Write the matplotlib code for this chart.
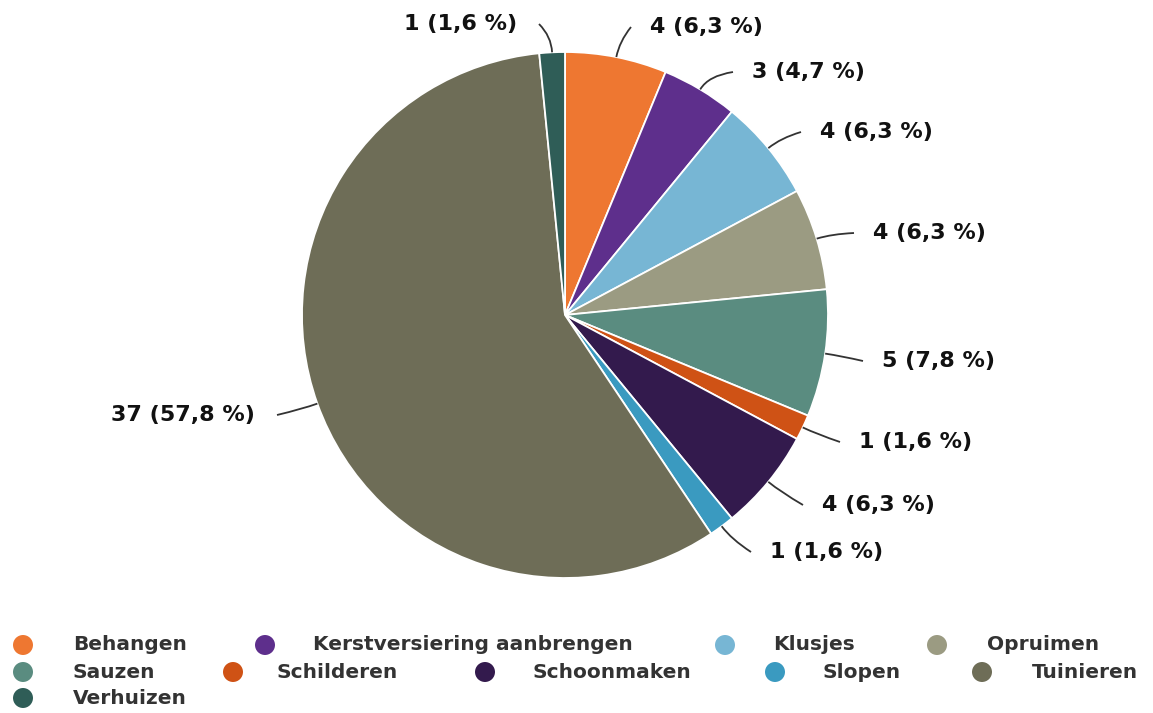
import numpy as np
import matplotlib
matplotlib.use("Agg")
import matplotlib.pyplot as plt
from matplotlib.path import Path
from matplotlib.patches import PathPatch

# data
categories = ["Behangen", "Kerstversiering aanbrengen", "Klusjes", "Opruimen",
              "Sauzen", "Schilderen", "Schoonmaken", "Slopen", "Tuinieren", "Verhuizen"]
counts = [4, 3, 4, 4, 5, 1, 4, 1, 37, 1]
colors = ["#ee7731", "#5e2f8c", "#77b6d4", "#9b9b82", "#5a8c80",
          "#cf5215", "#331a4d", "#3a9ac0", "#6e6d57", "#2f5d57"]

# layout (pixel coords of the 1153x713 canvas)
cx, cy, R = 565, 315, 263
label_pos = [(650, 27, "left"), (752, 72, "left"), (820, 132, "left"),
             (873, 233, "left"), (882, 361, "left"), (859, 442, "left"),
             (822, 505, "left"), (770, 552, "left"), (255, 415, "right"),
             (517, 24, "right")]
legend_pos = [(23, 73, 645), (265, 313, 645), (725, 773, 645), (937, 987, 645),
              (23, 73, 672), (233, 277, 672), (485, 533, 672), (775, 823, 672),
              (982, 1032, 672), (23, 73, 698)]

fig = plt.figure(figsize=(11.53, 7.13), dpi=100)
ax = fig.add_axes([0, 0, 1, 1])

# y axis is inverted below, so counterclock in data = clockwise on screen
wedges, _ = ax.pie(counts, colors=colors, center=(cx, cy), radius=R,
                   startangle=270, counterclock=True,
                   wedgeprops=dict(edgecolor="white", linewidth=1.3))
ax.set_xlim(0, 1153)
ax.set_ylim(713, 0)
ax.set_aspect("equal")
ax.axis("off")

total = sum(counts)
for w, n, (tx, ty, ha) in zip(wedges, counts, label_pos):
    pct = int(n / total * 1000 + 0.5) / 10
    txt = f"{n} ({pct:.1f} %)".replace(".", ",")
    ang = np.deg2rad((w.theta1 + w.theta2) / 2)
    p0 = (cx + R * np.cos(ang), cy + R * np.sin(ang))
    c = (cx + (R + 16) * np.cos(ang), cy + (R + 16) * np.sin(ang))
    ex = tx - 19 if ha == "left" else tx + 22
    path = Path([p0, c, (ex, ty)], [Path.MOVETO, Path.CURVE3, Path.CURVE3])
    ax.add_patch(PathPatch(path, fill=False, edgecolor="#333333", linewidth=1.3))
    ax.text(tx, ty, txt, ha=ha, va="center", fontsize=16, fontweight="bold",
            color="#111111", family="DejaVu Sans")

# legend
for name, col, (mx, lx, ly) in zip(categories, colors, legend_pos):
    ax.scatter([mx], [ly], s=207, color=col, edgecolors="none")
    ax.text(lx, ly, name, ha="left", va="center", fontsize=14.5,
            fontweight="bold", color="#333333", family="DejaVu Sans")

plt.savefig("out.png", dpi=100)
